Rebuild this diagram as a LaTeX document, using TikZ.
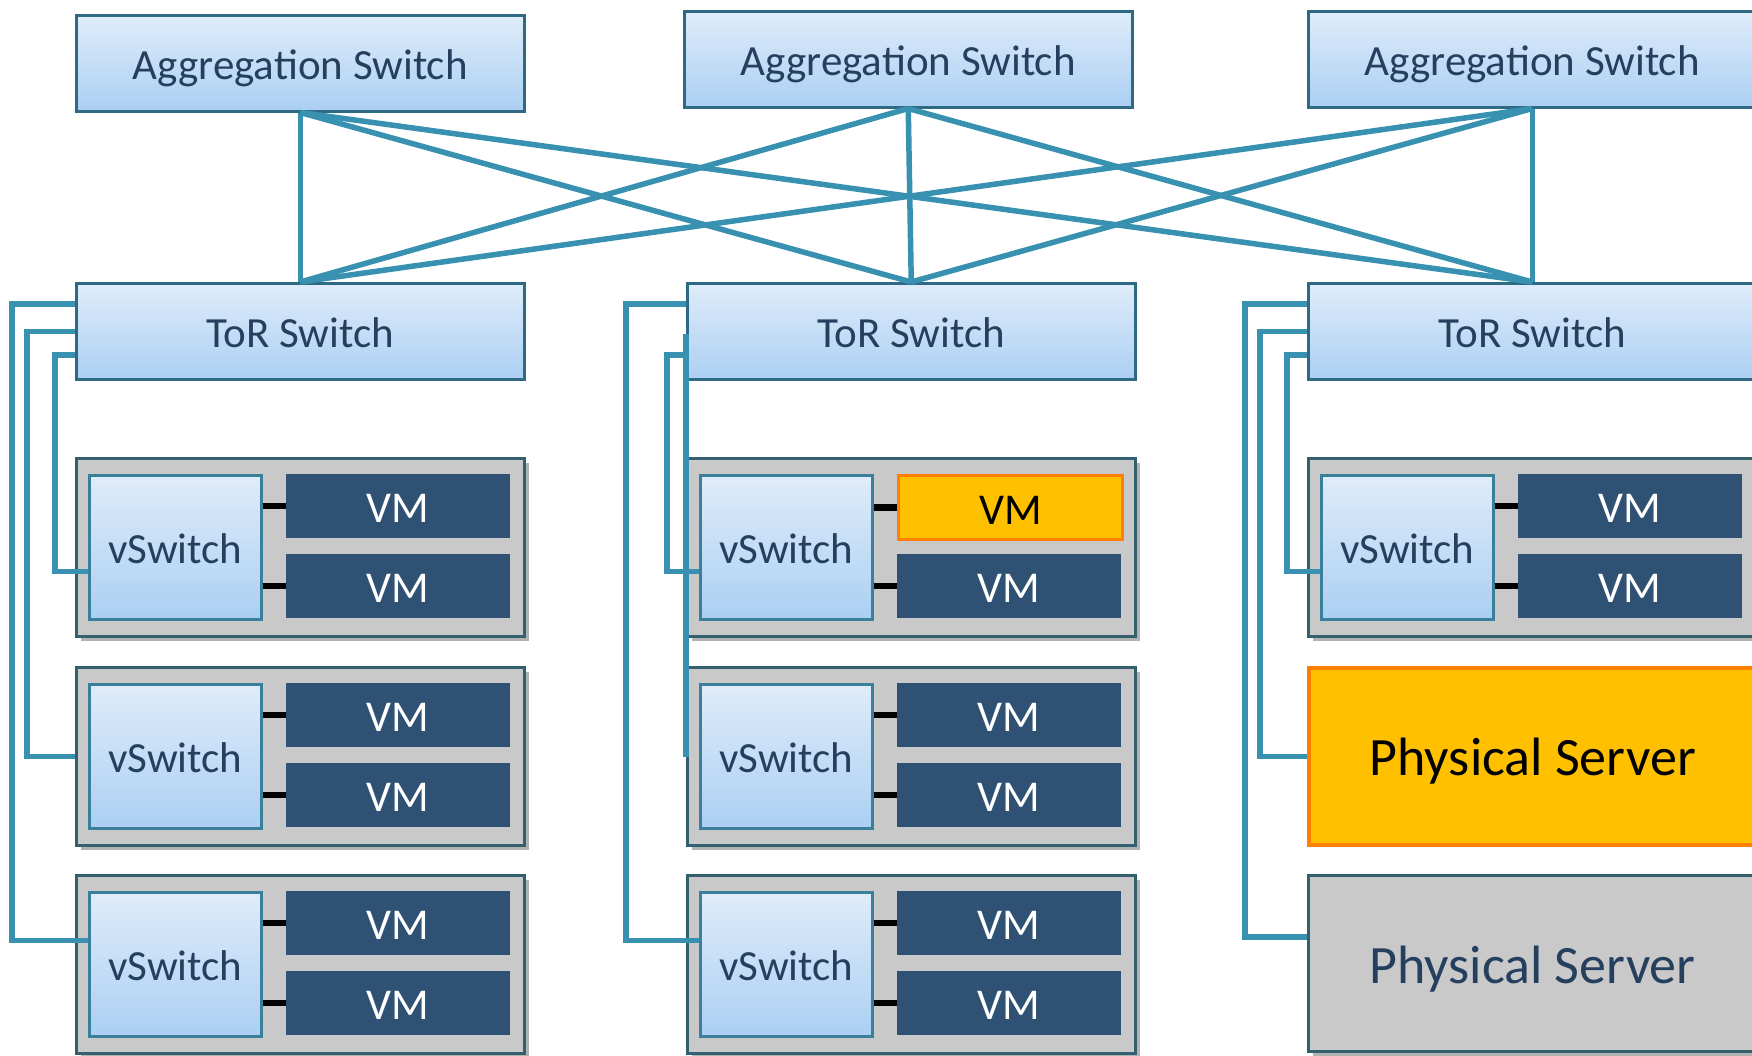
\documentclass[tikz,border=0pt]{standalone}
\usepackage{fontspec}
\setmainfont{Carlito}
\usetikzlibrary{shadows,calc}
\definecolor{linkc}{HTML}{3891B0}
\definecolor{boxborder}{HTML}{2F6A85}
\definecolor{vsborder}{HTML}{3A7F9C}
\definecolor{boxtop}{HTML}{DFECFA}
\definecolor{boxbot}{HTML}{ABCFF2}
\definecolor{txtc}{HTML}{253F5F}
\definecolor{vmc}{HTML}{2F5274}
\definecolor{srvc}{HTML}{C9C9C9}
\definecolor{srvborder}{HTML}{33606F}
\definecolor{hlfill}{HTML}{FFC000}
\definecolor{hlborder}{HTML}{FF7F00}
\tikzset{
  txt42/.style={font=\fontsize{43}{50}\selectfont, text height=35pt, text depth=2pt},
  netbox/.style={draw=boxborder, line width=2.5pt, top color=boxtop, bottom color=boxbot,
    text=txtc, inner sep=0pt, anchor=north west, txt42},
  bigbox/.style={netbox, minimum width=448pt, minimum height=96pt},
  vsbox/.style={netbox, draw=vsborder, minimum width=172pt, minimum height=144pt},
  srvbox/.style={draw=srvborder, line width=3pt, fill=srvc, anchor=north west,
    minimum width=448pt, minimum height=178pt, inner sep=0pt,
    drop shadow={shadow xshift=4pt, shadow yshift=-4pt, opacity=0.3, fill=black}},
  vmbox/.style={fill=vmc, text=white, anchor=north west, minimum width=224pt,
    minimum height=64pt, inner sep=0pt, font=\fontsize{44}{50}\selectfont,
    text height=35pt, text depth=2pt},
  hlvm/.style={vmbox, fill=hlfill, draw=hlborder, line width=3pt, text=black},
  physbox/.style={anchor=north west, minimum width=448pt, inner sep=0pt,
    font=\fontsize{54}{60}\selectfont, text height=43pt, text depth=4pt},
  link/.style={draw=linkc, line width=5.5pt},
  vmlink/.style={draw=black, line width=6.5pt},
}
\begin{document}
\begin{tikzpicture}[x=1pt,y=-1pt]
\useasboundingbox (0,0) rectangle (1752,1055);
\fill[white] (0,0) rectangle (1752,1055);

% server enclosures
\foreach \c/\x in {1/75,2/686}{
  \foreach \r/\y in {1/457,2/666,3/874}{
    \node[srvbox] (srv\c\r) at (\x,\y) {};
  }
}
\node[srvbox] (srv31) at (1307,457) {};
\node[physbox, fill=hlfill, draw=hlborder, line width=3.5pt, minimum height=177pt, text=black] (phys1) at (1307,666) {Physical Server};
\node[srvbox, physbox, minimum height=176pt, text=txtc] (phys2) at (1307,874) {Physical Server};

% vSwitches and VMs
\foreach \c/\x in {1/75,2/686}{
  \foreach \r/\y in {1/457,2/666,3/874}{
    \node[vsbox] (vs\c\r) at (\x+13,\y+17) {vSwitch};
  }
}
\node[vsbox] (vs31) at (1320,474) {vSwitch};

\foreach \c/\x in {1/75,2/686,3/1307}{
  \foreach \r/\y in {1/457,2/666,3/874}{
    \ifnum\c=3 \ifnum\r>1 \else
      \node[vmbox] (vma\c\r) at (\x+211,\y+17) {VM};
      \node[vmbox] (vmb\c\r) at (\x+211,\y+97) {VM};
    \fi\else
      \ifnum\c=2 \ifnum\r=1
        \node[hlvm] (vma\c\r) at (\x+211,\y+17) {VM};
      \else
        \node[vmbox] (vma\c\r) at (\x+211,\y+17) {VM};
      \fi\else
        \node[vmbox] (vma\c\r) at (\x+211,\y+17) {VM};
      \fi
      \node[vmbox] (vmb\c\r) at (\x+211,\y+97) {VM};
    \fi
  }
}

% vSwitch to VM connectors
\foreach \n in {11,12,13,21,22,23,31}{
  \draw[vmlink] (vs\n.east |- vma\n.west) -- (vma\n.west);
  \draw[vmlink] (vs\n.east |- vmb\n.west) -- (vmb\n.west);
}

% switches
\node[bigbox] (agg1) at (75,14) {Aggregation Switch};
\node[bigbox] (agg2) at (683,10) {Aggregation Switch};
\node[bigbox] (agg3) at (1307,10) {Aggregation Switch};
\node[bigbox] (tor1) at (75,282) {ToR Switch};
\node[bigbox] (tor2) at (686,282) {ToR Switch};
\node[bigbox] (tor3) at (1307,282) {ToR Switch};

% aggregation mesh
\foreach \a in {agg1,agg2,agg3}{
  \foreach \t in {tor1,tor2,tor3}{
    \draw[link] (\a.south) -- (\t.north);
  }
}

% ToR to servers, column 1
\draw[link] ([yshift=-22pt]tor1.north west) -- ++(-63,0) |- ([yshift=24pt]vs13.west);
\draw[link] (tor1.west) -- ++(-48,0) |- (srv12.west);
\draw[link] ([yshift=-73pt]tor1.north west) -- ++(-20,0) |- ([yshift=-24pt]vs11.west);

% column 2
\draw[link] ([yshift=-22pt]tor2.north west) -- ++(-60,0) |- ([yshift=24pt]vs23.west);
\draw[link] ([yshift=-73pt]tor2.north west) -- ++(-19,0) |- ([yshift=-24pt]vs21.west);
\draw[link] ([yshift=-52pt]tor2.north west) -- (srv22.west);

% column 3
\draw[link] ([yshift=-22pt]tor3.north west) -- ++(-62,0) |- ([yshift=-63pt]phys2.north west);
\draw[link] (tor3.west) -- ++(-47,0) |- (phys1.west);
\draw[link] ([yshift=-73pt]tor3.north west) -- ++(-20,0) |- ([yshift=-24pt]vs31.west);
\end{tikzpicture}
\end{document}
